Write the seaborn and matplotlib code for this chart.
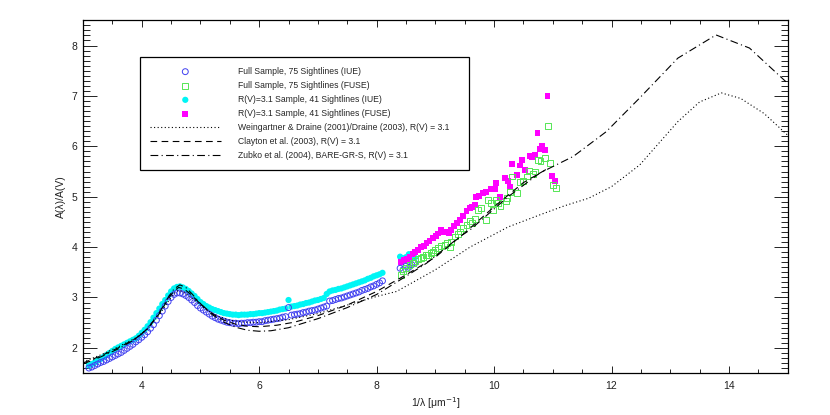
import matplotlib
matplotlib.use('Agg')
import matplotlib.pyplot as plt
from matplotlib.ticker import MultipleLocator
import seaborn as sns

# IUE range, shared wavenumber grid (1/micron)
x_iue = [3.10, 3.15, 3.20, 3.25, 3.30, 3.35, 3.40, 3.45, 3.50, 3.55,
         3.60, 3.65, 3.70, 3.75, 3.80, 3.85, 3.90, 3.95, 4.00, 4.05,
         4.10, 4.15, 4.20, 4.25, 4.30, 4.35, 4.40, 4.45, 4.50, 4.55,
         4.60, 4.65, 4.70, 4.75, 4.80, 4.85, 4.90, 4.95, 5.00, 5.05,
         5.10, 5.15, 5.20, 5.25, 5.30, 5.35, 5.40, 5.45, 5.50, 5.55,
         5.60, 5.65, 5.70, 5.75, 5.80, 5.85, 5.90, 5.95, 6.00, 6.05,
         6.10, 6.15, 6.20, 6.25, 6.30, 6.35, 6.40, 6.45, 6.50, 6.55,
         6.60, 6.65, 6.70, 6.75, 6.80, 6.85, 6.90, 6.95, 7.00, 7.05,
         7.10, 7.15, 7.20, 7.25, 7.30, 7.35, 7.40, 7.45, 7.50, 7.55,
         7.60, 7.65, 7.70, 7.75, 7.80, 7.85, 7.90, 7.95, 8.00, 8.05,
         8.10, 8.40, 8.45, 8.50, 8.55, 8.60, 8.65]

full_iue = [1.60, 1.62, 1.65, 1.68, 1.71, 1.73, 1.76, 1.79, 1.82, 1.85,
            1.88, 1.91, 1.95, 1.99, 2.03, 2.07, 2.12, 2.16, 2.21, 2.26,
            2.32, 2.39, 2.46, 2.55, 2.64, 2.73, 2.83, 2.92, 3.00, 3.06,
            3.09, 3.09, 3.07, 3.04, 3.00, 2.95, 2.90, 2.84, 2.79, 2.75,
            2.71, 2.67, 2.63, 2.60, 2.57, 2.55, 2.53, 2.51, 2.50, 2.49,
            2.49, 2.48, 2.49, 2.49, 2.50, 2.50, 2.51, 2.51, 2.52, 2.52,
            2.54, 2.55, 2.56, 2.57, 2.58, 2.59, 2.61, 2.62, 2.80, 2.65,
            2.66, 2.67, 2.68, 2.70, 2.71, 2.73, 2.74, 2.75, 2.77, 2.79,
            2.81, 2.83, 2.93, 2.94, 2.96, 2.98, 2.99, 3.01, 3.03, 3.05,
            3.07, 3.09, 3.11, 3.14, 3.16, 3.18, 3.21, 3.23, 3.26, 3.29,
            3.33, 3.58, 3.55, 3.62, 3.60, 3.65, 3.68]

rv31_iue = [1.65, 1.68, 1.71, 1.75, 1.78, 1.82, 1.86, 1.90, 1.94, 1.98,
            2.01, 2.04, 2.07, 2.10, 2.13, 2.16, 2.19, 2.24, 2.30, 2.36,
            2.43, 2.51, 2.60, 2.69, 2.78, 2.87, 2.95, 3.04, 3.12, 3.18,
            3.21, 3.22, 3.20, 3.17, 3.13, 3.08, 3.03, 2.97, 2.91, 2.87,
            2.83, 2.80, 2.77, 2.75, 2.73, 2.71, 2.69, 2.68, 2.67, 2.66,
            2.66, 2.65, 2.66, 2.66, 2.66, 2.67, 2.67, 2.68, 2.69, 2.69,
            2.70, 2.71, 2.72, 2.73, 2.74, 2.76, 2.77, 2.78, 2.95, 2.82,
            2.83, 2.84, 2.86, 2.87, 2.89, 2.90, 2.92, 2.94, 2.95, 2.97,
            2.99, 3.07, 3.12, 3.14, 3.15, 3.17, 3.18, 3.20, 3.22, 3.24,
            3.26, 3.28, 3.30, 3.32, 3.34, 3.37, 3.39, 3.42, 3.44, 3.46,
            3.49, 3.81, 3.78, 3.80, 3.86, 3.84, 3.79]

# FUSE range
x_full_fuse = [8.42, 8.45, 8.50, 8.56, 8.62, 8.66, 8.71, 8.75, 8.79, 8.84,
               8.88, 8.92, 8.96, 9.00, 9.05, 9.10, 9.16, 9.20, 9.25, 9.27,
               9.33, 9.38, 9.42, 9.47, 9.53, 9.59, 9.62, 9.67, 9.73, 9.78,
               9.87, 9.90, 9.95, 9.98, 10.03, 10.07, 10.11, 10.20, 10.22, 10.27,
               10.31, 10.39, 10.44, 10.49, 10.56, 10.60, 10.66, 10.69, 10.75, 10.79,
               10.86, 10.92, 10.95, 11.00, 11.05]
full_fuse = [3.45, 3.52, 3.58, 3.65, 3.69, 3.72, 3.76, 3.79, 3.81, 3.84,
             3.85, 3.88, 3.91, 3.94, 3.98, 4.02, 4.05, 4.09, 4.00, 4.11,
             4.21, 4.26, 4.31, 4.38, 4.44, 4.51, 4.48, 4.56, 4.74, 4.77,
             4.54, 4.94, 4.87, 4.73, 4.94, 4.87, 4.81, 4.91, 4.97, 5.10,
             5.40, 5.08, 5.30, 5.32, 5.40, 5.52, 5.45, 5.50, 5.73, 5.71,
             5.77, 6.41, 5.67, 5.24, 5.17]

x_rv31_fuse = [8.42, 8.47, 8.52, 8.56, 8.62, 8.66, 8.71, 8.76, 8.80, 8.85,
               8.90, 8.96, 9.01, 9.05, 9.10, 9.15, 9.19, 9.23, 9.27, 9.32,
               9.37, 9.42, 9.47, 9.53, 9.59, 9.63, 9.67, 9.70, 9.75, 9.81,
               9.87, 9.95, 10.01, 10.03, 10.10, 10.18, 10.24, 10.27, 10.31, 10.39,
               10.44, 10.48, 10.52, 10.61, 10.65, 10.69, 10.74, 10.78, 10.82, 10.87,
               10.91, 10.99, 11.04]
rv31_fuse = [3.71, 3.74, 3.76, 3.81, 3.86, 3.90, 3.95, 4.00, 4.03, 4.08,
             4.12, 4.18, 4.22, 4.27, 4.34, 4.30, 4.31, 4.28, 4.34, 4.42,
             4.48, 4.54, 4.62, 4.71, 4.77, 4.80, 4.84, 5.00, 5.02, 5.07,
             5.10, 5.15, 5.16, 5.27, 5.00, 5.37, 5.32, 5.19, 5.65, 5.43,
             5.62, 5.72, 5.53, 5.81, 5.79, 5.83, 6.26, 5.94, 6.00, 5.93,
             6.99, 5.41, 5.32]

# model curves
x_wd = [3.00, 3.30, 3.60, 3.90, 4.10, 4.30, 4.45, 4.55, 4.62, 4.70,
        4.80, 4.93, 5.10, 5.30, 5.50, 5.75, 6.00, 6.50, 7.00, 7.50,
        8.00, 8.34, 9.00, 9.59, 10.24, 10.78, 11.20, 11.61, 12.00, 12.48,
        13.13, 13.50, 13.87, 14.20, 14.60, 15.00]
y_wd = [1.72, 1.86, 2.02, 2.20, 2.38, 2.66, 2.92, 3.08, 3.14, 3.12,
        3.04, 2.92, 2.76, 2.63, 2.55, 2.51, 2.50, 2.56, 2.68, 2.85,
        3.02, 3.12, 3.55, 4.00, 4.40, 4.64, 4.82, 4.97, 5.20, 5.63,
        6.49, 6.88, 7.06, 6.95, 6.65, 6.22]

x_clayton = [3.00, 3.30, 3.60, 3.90, 4.10, 4.30, 4.45, 4.55, 4.63, 4.72,
             4.85, 5.00, 5.20, 5.40, 5.60, 5.80, 6.00, 6.30, 6.60, 7.00,
             7.50, 8.00, 8.50, 9.00, 9.50, 10.00, 10.50, 10.90]
y_clayton = [1.70, 1.84, 2.00, 2.19, 2.38, 2.68, 2.97, 3.13, 3.20, 3.17,
             3.05, 2.87, 2.68, 2.55, 2.47, 2.43, 2.42, 2.45, 2.51, 2.64,
             2.85, 3.12, 3.45, 3.80, 4.28, 4.80, 5.28, 5.55]

x_zubko = [3.00, 3.30, 3.60, 3.90, 4.10, 4.30, 4.45, 4.55, 4.65, 4.75,
           4.85, 5.00, 5.20, 5.40, 5.60, 5.80, 6.00, 6.20, 6.50, 7.00,
           7.50, 8.00, 8.50, 8.85, 9.42, 9.59, 10.24, 10.78, 11.35, 11.91,
           12.48, 13.13, 13.78, 14.35, 15.00]
y_zubko = [1.68, 1.82, 1.98, 2.18, 2.38, 2.70, 3.00, 3.17, 3.25, 3.20,
           3.08, 2.88, 2.66, 2.51, 2.41, 2.35, 2.33, 2.34, 2.40, 2.58,
           2.80, 3.06, 3.42, 3.68, 4.21, 4.34, 5.00, 5.47, 5.80, 6.29,
           6.96, 7.75, 8.21, 7.95, 7.25]

sns.set_style('ticks')
plt.rcParams['font.family'] = ['Liberation Sans', 'DejaVu Sans']
plt.rcParams['mathtext.fontset'] = 'dejavusans'

fig = plt.figure(figsize=(8.3, 4.15), dpi=100)
ax = fig.add_axes([0.1, 0.101, 0.849, 0.85])

sns.scatterplot(x=x_iue, y=full_iue, ax=ax, marker='o', s=18,
                facecolors='none', edgecolor='#4040f0', linewidth=0.7,
                label='Full Sample, 75 Sightlines (IUE)', zorder=3)
sns.scatterplot(x=x_full_fuse, y=full_fuse, ax=ax, marker='s', s=18,
                facecolors='none', edgecolor='#55e655', linewidth=0.7,
                label='Full Sample, 75 Sightlines (FUSE)', zorder=3)
sns.scatterplot(x=x_iue, y=rv31_iue, ax=ax, marker='o', s=20,
                color='#00f5f5', edgecolor='none', linewidth=0,
                label='R(V)=3.1 Sample, 41 Sightlines (IUE)', zorder=2)
sns.scatterplot(x=x_rv31_fuse, y=rv31_fuse, ax=ax, marker='s', s=18,
                color='#ff00ff', edgecolor='none', linewidth=0,
                label='R(V)=3.1 Sample, 41 Sightlines (FUSE)', zorder=2)

sns.lineplot(x=x_wd, y=y_wd, ax=ax, color='black', lw=0.8,
             linestyle=(0, (1, 2.2)), estimator=None,
             label='Weingartner & Draine (2001)/Draine (2003), R(V) = 3.1', zorder=4)
sns.lineplot(x=x_clayton, y=y_clayton, ax=ax, color='black', lw=0.8,
             linestyle=(0, (6, 4)), estimator=None,
             label='Clayton et al. (2003), R(V) = 3.1', zorder=4)
sns.lineplot(x=x_zubko, y=y_zubko, ax=ax, color='black', lw=0.8,
             linestyle=(0, (7, 3, 1, 3)), estimator=None,
             label='Zubko et al. (2004), BARE-GR-S, R(V) = 3.1', zorder=4)

ax.set_xlim(3, 15)
ax.set_ylim(1.5, 8.5)
ax.xaxis.set_major_locator(MultipleLocator(2))
ax.xaxis.set_minor_locator(MultipleLocator(0.5))
ax.yaxis.set_major_locator(MultipleLocator(1))
ax.yaxis.set_minor_locator(MultipleLocator(0.1))
ax.tick_params(axis='both', which='both', direction='in', top=True, right=True,
               width=0.6, color='black', labelsize=7.5, labelcolor='#222222')
ax.tick_params(axis='x', which='major', length=5, pad=6)
ax.tick_params(axis='x', which='minor', length=3)
ax.tick_params(axis='y', which='major', length=10, pad=4)
ax.tick_params(axis='y', which='minor', length=5)
for sp in ax.spines.values():
    sp.set_visible(True)
    sp.set_linewidth(0.9)
    sp.set_color('black')

ax.set_xlabel('1/λ [μm$^{-1}$]', fontsize=7.5, color='#222222', labelpad=3)
ax.set_ylabel('A(λ)/A(V)', fontsize=7.5, color='#222222', labelpad=4)

leg = ax.legend(loc='upper left', bbox_to_anchor=(0.081, 0.579, 0.467, 0.317),
                mode='expand', fontsize=6.2, frameon=True, fancybox=False,
                edgecolor='black', framealpha=1, handlelength=8.2,
                handletextpad=2.0, labelspacing=0.59, borderpad=1.15,
                borderaxespad=0, scatterpoints=1)
leg.get_frame().set_linewidth(0.9)

fig.savefig('out.png', dpi=100)
